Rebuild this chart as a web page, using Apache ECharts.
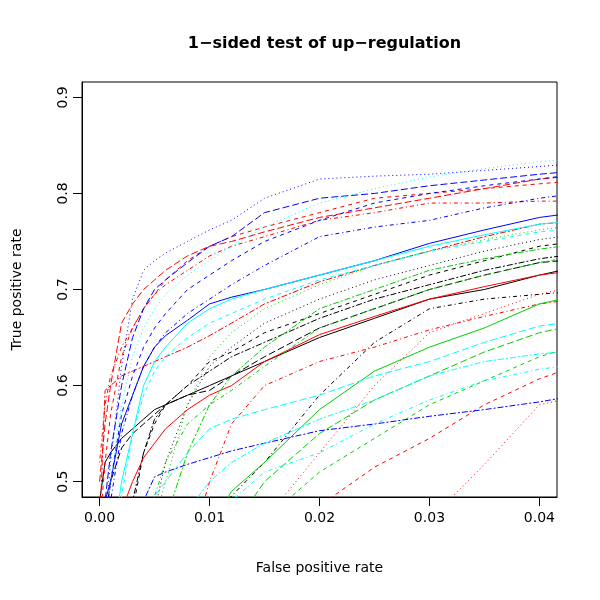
<!DOCTYPE html>
<html>
<head>
<meta charset="utf-8">
<script src="https://cdn.jsdelivr.net/npm/echarts@6/dist/echarts.min.js"></script>
<style>html,body{margin:0;padding:0;background:#fff}#c{width:600px;height:600px}</style>
</head>
<body>
<div id="c"></div>
<script>
// ---- data ----
const fpr = [0, 0.0005, 0.001, 0.002, 0.003, 0.004, 0.005, 0.006, 0.008, 0.010, 0.012, 0.015, 0.020, 0.025, 0.030, 0.035, 0.040, 0.042];
const xTicks = [0, 0.01, 0.02, 0.03, 0.04];
const yTicks = [0.5, 0.6, 0.7, 0.8, 0.9];
const titleText = '1\u2212sided test of up\u2212regulation';
const xName = 'False positive rate';
const yName = 'True positive rate';

const blackSolid    = [0.48,0.52,0.53,0.545,0.555,0.565,0.575,0.58,0.59,0.60,0.61,0.625,0.65,0.67,0.69,0.70,0.715,0.72];
const blackDashed   = [0.30,0.33,0.36,0.42,0.47,0.53,0.56,0.58,0.60,0.625,0.635,0.655,0.675,0.695,0.715,0.73,0.745,0.748];
const blackDotted   = [0.30,0.30,0.30,0.35,0.40,0.44,0.47,0.52,0.58,0.62,0.64,0.665,0.69,0.71,0.725,0.74,0.752,0.755];
const blackDotdash  = [0.30,0.30,0.30,0.30,0.30,0.31,0.32,0.34,0.38,0.44,0.485,0.52,0.59,0.645,0.68,0.69,0.695,0.697];
const blackLongdash = [0.40,0.46,0.50,0.535,0.55,0.56,0.57,0.58,0.59,0.595,0.61,0.63,0.66,0.68,0.70,0.715,0.728,0.73];
const blackTwodash  = [0.30,0.35,0.40,0.44,0.48,0.53,0.565,0.58,0.60,0.615,0.63,0.645,0.67,0.69,0.705,0.72,0.732,0.735];

const redLongdash   = [0.50,0.56,0.60,0.665,0.685,0.70,0.71,0.72,0.735,0.745,0.75,0.76,0.775,0.785,0.795,0.805,0.815,0.817];
const redDashed     = [0.45,0.52,0.57,0.63,0.66,0.68,0.695,0.71,0.73,0.745,0.755,0.765,0.78,0.795,0.80,0.805,0.81,0.812];
const redDotdash    = [0.52,0.58,0.61,0.64,0.66,0.68,0.695,0.705,0.72,0.735,0.745,0.755,0.772,0.78,0.79,0.79,0.792,0.792];
const redTwodash    = [0.45,0.595,0.60,0.61,0.615,0.62,0.625,0.63,0.64,0.652,0.665,0.685,0.708,0.725,0.74,0.755,0.768,0.77];
const redSolid      = [0.40,0.42,0.44,0.47,0.50,0.525,0.54,0.555,0.575,0.59,0.60,0.625,0.653,0.672,0.69,0.703,0.715,0.718];
const redDotdash2   = [0.30,0.31,0.32,0.33,0.34,0.35,0.36,0.37,0.42,0.50,0.56,0.60,0.625,0.64,0.658,0.672,0.685,0.688];
const redDottedMid  = [0.30,0.30,0.30,0.30,0.30,0.30,0.30,0.30,0.32,0.35,0.40,0.46,0.53,0.60,0.655,0.675,0.695,0.70];
const redDashedLow  = [0.25,0.25,0.25,0.25,0.26,0.27,0.28,0.29,0.31,0.33,0.36,0.40,0.475,0.515,0.545,0.58,0.607,0.615];
const redDottedLate = [0.20,0.20,0.20,0.20,0.21,0.22,0.23,0.24,0.26,0.28,0.30,0.33,0.37,0.40,0.46,0.518,0.58,0.585];

const greenDotted   = [0.30,0.30,0.30,0.33,0.37,0.42,0.46,0.50,0.58,0.63,0.655,0.68,0.705,0.725,0.74,0.752,0.762,0.765];
const greenTwodash  = [0.30,0.30,0.30,0.32,0.35,0.39,0.43,0.46,0.53,0.58,0.61,0.64,0.68,0.70,0.72,0.732,0.742,0.745];
const greenDotdash  = [0.30,0.30,0.32,0.36,0.40,0.45,0.485,0.52,0.56,0.58,0.595,0.62,0.66,0.68,0.70,0.715,0.728,0.732];
const greenSolid    = [0.25,0.25,0.26,0.28,0.30,0.32,0.34,0.36,0.40,0.45,0.49,0.52,0.575,0.615,0.64,0.66,0.685,0.69];
const greenLongdash = [0.25,0.25,0.25,0.26,0.27,0.28,0.30,0.32,0.36,0.40,0.45,0.50,0.55,0.585,0.61,0.635,0.655,0.66];
const greenDashed   = [0.22,0.22,0.22,0.23,0.24,0.25,0.26,0.28,0.32,0.36,0.40,0.46,0.51,0.545,0.58,0.605,0.63,0.637];

const blueDotted    = [0.40,0.46,0.52,0.62,0.69,0.72,0.73,0.738,0.75,0.762,0.772,0.795,0.815,0.818,0.820,0.824,0.828,0.830];
const blueLongdash  = [0.42,0.48,0.53,0.60,0.65,0.68,0.70,0.71,0.728,0.745,0.755,0.780,0.795,0.800,0.808,0.814,0.820,0.822];
const blueDashed    = [0.40,0.45,0.50,0.57,0.61,0.64,0.66,0.675,0.70,0.715,0.73,0.75,0.772,0.79,0.80,0.808,0.815,0.818];
const blueDotdash   = [0.40,0.44,0.48,0.55,0.59,0.62,0.64,0.655,0.675,0.69,0.705,0.725,0.755,0.765,0.772,0.785,0.795,0.798];
const blueSolid     = [0.45,0.48,0.50,0.56,0.59,0.62,0.64,0.652,0.668,0.685,0.692,0.70,0.715,0.73,0.748,0.762,0.775,0.778];
const blueTwodash   = [0.30,0.33,0.36,0.40,0.44,0.48,0.505,0.51,0.518,0.525,0.532,0.54,0.553,0.56,0.568,0.575,0.583,0.587];

const cyanDotted    = [0.40,0.45,0.50,0.58,0.63,0.66,0.68,0.695,0.715,0.73,0.745,0.765,0.79,0.805,0.817,0.826,0.833,0.835];
const cyanSolid     = [0.35,0.38,0.42,0.50,0.55,0.60,0.625,0.64,0.665,0.68,0.69,0.70,0.715,0.73,0.745,0.757,0.768,0.77];
const cyanDashed    = [0.30,0.33,0.38,0.485,0.55,0.59,0.615,0.63,0.65,0.665,0.675,0.69,0.71,0.725,0.74,0.75,0.76,0.762];
const cyanLongdash  = [0.30,0.31,0.32,0.35,0.38,0.40,0.485,0.50,0.53,0.555,0.565,0.575,0.59,0.61,0.625,0.645,0.662,0.665];
const cyanTwodash   = [0.28,0.29,0.30,0.32,0.34,0.36,0.38,0.40,0.47,0.50,0.52,0.54,0.565,0.585,0.61,0.625,0.633,0.635];
const cyanDotdash   = [0.26,0.27,0.28,0.30,0.32,0.34,0.36,0.38,0.40,0.46,0.48,0.51,0.53,0.56,0.585,0.605,0.617,0.62];

// ---- styles ----
const COL = {black:'#000000', red:'#FF0000', green:'#00CD00', blue:'#0000FF', cyan:'#00FFFF'};
const DASH = {solid:'solid', dashed:[4,4], dotted:[1,3], dotdash:[1,3,4,3], longdash:[7,3], twodash:[2,2,6,2]};
const curves = [
  [blackSolid,'black','solid'],[blackDashed,'black','dashed'],[blackDotted,'black','dotted'],
  [blackDotdash,'black','dotdash'],[blackLongdash,'black','longdash'],[blackTwodash,'black','twodash'],
  [redLongdash,'red','longdash'],[redDashed,'red','dashed'],[redDotdash,'red','dotdash'],
  [redTwodash,'red','twodash'],[redSolid,'red','solid'],[redDotdash2,'red','dotdash'],
  [redDottedMid,'red','dotted'],[redDashedLow,'red','dashed'],[redDottedLate,'red','dotted'],
  [greenDotted,'green','dotted'],[greenTwodash,'green','twodash'],[greenDotdash,'green','dotdash'],
  [greenSolid,'green','solid'],[greenLongdash,'green','longdash'],[greenDashed,'green','dashed'],
  [blueDotted,'blue','dotted'],[blueLongdash,'blue','longdash'],[blueDashed,'blue','dashed'],
  [blueDotdash,'blue','dotdash'],[blueSolid,'blue','solid'],[blueTwodash,'blue','twodash'],
  [cyanDotted,'cyan','dotted'],[cyanSolid,'cyan','solid'],[cyanDashed,'cyan','dashed'],
  [cyanLongdash,'cyan','longdash'],[cyanTwodash,'cyan','twodash'],[cyanDotdash,'cyan','dotdash']
];

const FONT = 'DejaVu Sans';
const chart = echarts.init(document.getElementById('c'), null, {renderer:'canvas'});
chart.setOption({
  animation: false,
  backgroundColor: '#ffffff',
  title: {
    text: titleText,
    left: 319.5, top: 31, textAlign: 'center',
    textStyle: {fontFamily: FONT, fontWeight: 'bold', fontSize: 16, color: '#000'}
  },
  grid: {left: 82, top: 82, right: 43, bottom: 103, show: true, borderColor: '#000', borderWidth: 1},
  xAxis: {
    type: 'value', min: -0.0016, max: 0.0416,
    splitLine: {show: false},
    axisLine: {show: true, onZero: false, lineStyle: {color: '#000', width: 1}},
    axisTick: {show: true, length: 9, customValues: xTicks, lineStyle: {color: '#000', width: 1}},
    axisLabel: {customValues: xTicks, formatter: v => v.toFixed(2), color: '#000', fontSize: 14, fontFamily: FONT, margin: 14}
  },
  yAxis: {
    type: 'value', min: 0.484, max: 0.916,
    splitLine: {show: false},
    axisLine: {show: true, onZero: false, lineStyle: {color: '#000', width: 1}},
    axisTick: {show: true, length: 9, customValues: yTicks, lineStyle: {color: '#000', width: 1}},
    axisLabel: {customValues: yTicks, rotate: 90, color: '#000', fontSize: 14, fontFamily: FONT, margin: 12}
  },
  graphic: [
    {type: 'text', x: 319.5, y: 568, silent: true,
     style: {text: xName, font: '14px "DejaVu Sans"', fill: '#000', align: 'center', verticalAlign: 'middle'}},
    {type: 'text', x: 17, y: 289.5, rotation: Math.PI / 2, silent: true,
     style: {text: yName, font: '14px "DejaVu Sans"', fill: '#000', align: 'center', verticalAlign: 'middle'}}
  ],
  series: curves.map(([vals, c, l]) => ({
    type: 'line',
    data: fpr.map((x, i) => [x, vals[i]]),
    showSymbol: false, symbol: 'none', clip: true, silent: true,
    lineStyle: {color: COL[c], width: 1, type: DASH[l]}
  }))
});
</script>
</body>
</html>
